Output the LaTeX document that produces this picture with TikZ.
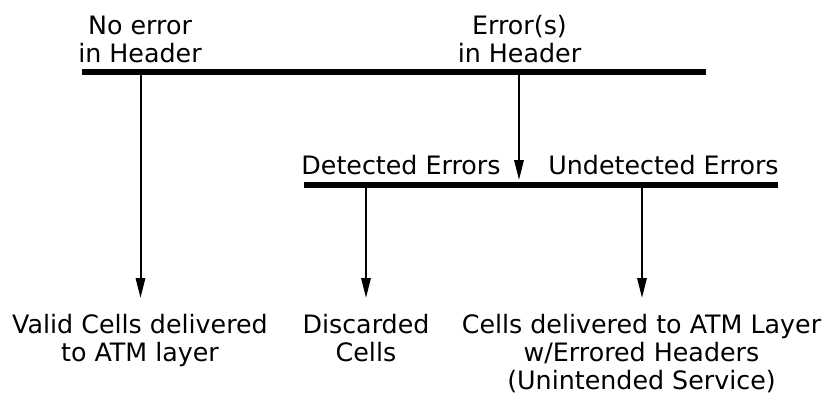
\documentclass[tikz,border=0pt]{standalone}
\usepackage{fontspec}
\setmainfont{DejaVu Sans}
\usetikzlibrary{arrows.meta}

\tikzset{every picture/.style={line width=0.75pt}}
\tikzset{
  lbl/.style={anchor=base, inner sep=0pt, align=center, font=\fontsize{19}{21}\selectfont},
  bar/.style={line width=4pt},
  arr/.style={line width=1.5pt, -{Triangle[length=15pt,width=7pt]}}
}

\begin{document}
\begin{tikzpicture}[x=0.75pt,y=0.75pt,yscale=-1,xscale=1]
\useasboundingbox (0,0) rectangle (825,394);

%Bars
\coordinate (topL) at (82,72);
\coordinate (topR) at (706,72);
\coordinate (midL) at (304,185);
\coordinate (midR) at (778,185);
\draw [bar] (topL) -- (topR) ;
\draw [bar] (midL) -- (midR) ;

%Branch points on the bars
\coordinate (okB) at (140.5,72);
\coordinate (errB) at (519,72);
\coordinate (detB) at (366,185);
\coordinate (undB) at (642,185);
%Level of the arrow tips
\coordinate (tipY) at (0,298);

% Text Node
\node [lbl] (noerr) at (140,62) {No error\\in Header};
% Text Node
\node [lbl] (errs) at (519.5,62) {Error(s)\\in Header};
% Text Node
\node [lbl] (det) at (401,174) {Detected Errors};
% Text Node
\node [lbl] (undet) at (663.5,174) {Undetected Errors};
% Text Node
\node [lbl] (valid) at (140,361) {Valid Cells delivered\\to ATM layer};
% Text Node
\node [lbl] (disc) at (366,361) {Discarded\\Cells};
% Text Node
\node [lbl] (deliv) at (641.5,389) {Cells delivered to ATM Layer\\w/Errored Headers\\(Unintended Service)};

%Arrows
\coordinate (errT) at (519,180);
\draw [arr] (errB) -- (errT) ;
\draw [arr] (okB) -- (okB |- tipY) ;
\draw [arr] (detB) -- (detB |- tipY) ;
\draw [arr] (undB) -- (undB |- tipY) ;

\end{tikzpicture}
\end{document}
